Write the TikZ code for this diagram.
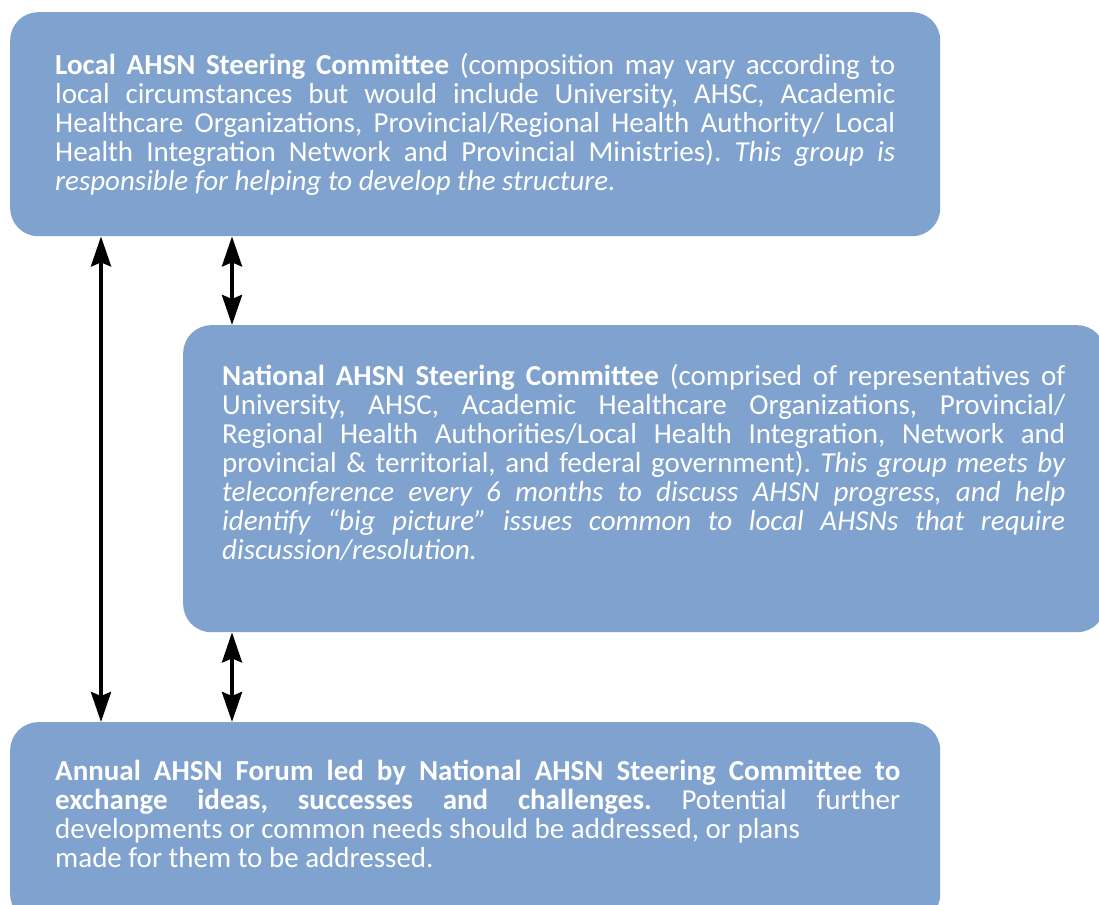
\documentclass[tikz,border=0pt]{standalone}
\usepackage{fontspec}
\setmainfont{Carlito}
\usepackage{xcolor}
\usepackage{tikz}
\usetikzlibrary{arrows.meta, positioning}
\definecolor{ahsnBlue}{HTML}{7FA2CE}
\definecolor{ahsnArrow}{HTML}{000000}
\frenchspacing

\begin{document}
\begin{tikzpicture}[
    x=1pt, y=-1pt,
    panel/.style={rectangle, rounded corners=28pt, fill=ahsnBlue, draw=none, anchor=north west, minimum height=#1},
    blurb/.style={anchor=base west, inner sep=0pt, text=white, text width=#1, align=justify, font=\fontsize{29}{29}\selectfont},
    arrow/.style={{Stealth[length=30pt, width=20pt, inset=4pt]}-{Stealth[length=30pt, width=20pt, inset=4pt]}, line width=4pt, ahsnArrow}
]
\useasboundingbox (0,0) rectangle (1099,904);

% Local committee
\node[panel=224pt, minimum width=930pt] (local) at (10,12) {};
\node[blurb=840pt] (localtext) at (55,75) {\textbf{Local AHSN Steering Committee} (composition may vary according to\linebreak
local circumstances but would include University, AHSC, Academic\linebreak
Healthcare Organizations, Provincial/Regional Health Authority/ Local\linebreak
Health Integration Network and Provincial Ministries). \textit{This group is\linebreak
responsible for helping to develop the structure.}};

% National committee
\node[panel=307pt, minimum width=922pt] (national) at (183,325) {};
\node[blurb=843pt] (nationaltext) at (222,385) {\textbf{National AHSN Steering Committee} (comprised of representatives of\linebreak
University, AHSC, Academic Healthcare Organizations, Provincial/\linebreak
Regional Health Authorities/Local Health Integration, Network and\linebreak
provincial \& territorial, and federal government). \textit{This group meets by\linebreak
teleconference every 6 months to discuss AHSN progress, and help\linebreak
identify “big picture” issues common to local AHSNs that require\linebreak
discussion/resolution.}};

% Annual forum
\node[panel=200pt, minimum width=930pt] (forum) at (10,722) {};
\node[blurb=845pt] (forumtext) at (55,780) {\textbf{Annual AHSN Forum led by National AHSN Steering Committee to\linebreak
exchange ideas, successes and challenges.} Potential further\linebreak
developments or common needs should be addressed, or plans\\
made for them to be addressed.};

% Arrows
\draw[arrow] ([xshift=91pt]local.south west) -- ([xshift=91pt]forum.north west);
\draw[arrow] ([xshift=222pt]local.south west) -- ([xshift=49pt]national.north west);
\draw[arrow] ([xshift=49pt]national.south west) -- ([xshift=222pt]forum.north west);

\end{tikzpicture}
\end{document}
